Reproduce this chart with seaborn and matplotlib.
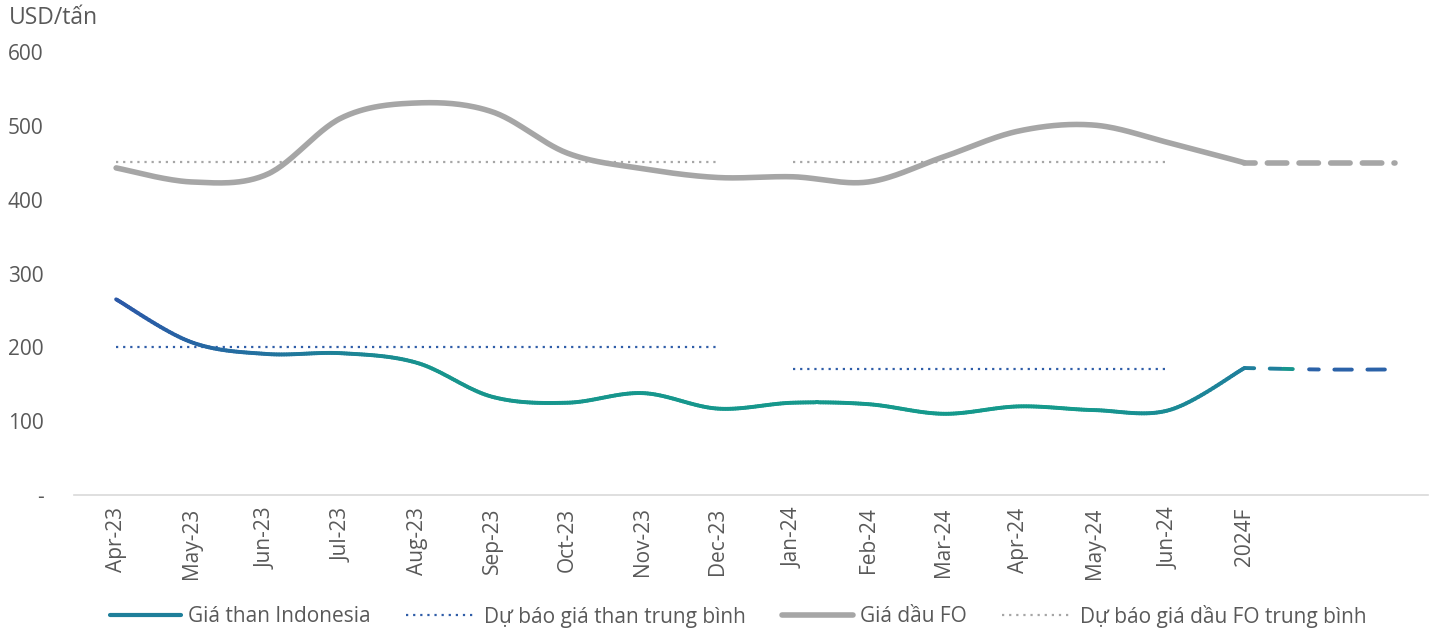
import numpy as np
import pandas as pd
import matplotlib
matplotlib.use("Agg")
import matplotlib.pyplot as plt
import seaborn as sns
from matplotlib.collections import LineCollection
from matplotlib.colors import LinearSegmentedColormap
from matplotlib.lines import Line2D

# ---------------- data ----------------
categories = ["Apr-23", "May-23", "Jun-23", "Jul-23", "Aug-23", "Sep-23", "Oct-23",
              "Nov-23", "Dec-23", "Jan-24", "Feb-24", "Mar-24", "Apr-24", "May-24",
              "Jun-24", "2024F", "", ""]
coal_price = [265, 207, 191, 192, 179, 133, 125, 138, 117, 125, 123, 110, 120, 115, 115, 172]
coal_forecast = [172, 170, 170]          # 2024F -> extension
oil_price = [443, 424, 434, 511, 531, 519, 463, 442, 430, 431, 424, 458, 493, 501, 477, 450]
oil_forecast = [450, 450, 450]
coal_avg_2023 = 200
coal_avg_2024 = 170
oil_avg_2023 = 451
oil_avg_2024 = 451
yticks = [0, 100, 200, 300, 400, 500, 600]
ytick_labels = ["-", "100", "200", "300", "400", "500", "600"]

TEXT = "#595959"
sns.set_theme(style="white")
plt.rcParams["font.family"] = ["Open Sans", "DejaVu Sans"]
FS = 15


def smooth(xs, ys, n=30):
    P = np.column_stack([xs, ys]).astype(float)
    E = np.vstack([P[0], P, P[-1]])
    out = []
    for i in range(len(P) - 1):
        p0, p1, p2, p3 = E[i], E[i + 1], E[i + 2], E[i + 3]
        c1 = p1 + (p2 - p0) / 6
        c2 = p2 - (p3 - p1) / 6
        t = np.linspace(0, 1, n, endpoint=(i == len(P) - 2))[:, None]
        b = ((1 - t) ** 3) * p1 + 3 * ((1 - t) ** 2) * t * c1 + 3 * (1 - t) * t ** 2 * c2 + t ** 3 * p2
        out.append(b)
    A = np.vstack(out)
    return A[:, 0], A[:, 1]


fig = plt.figure(figsize=(14.37, 6.31), dpi=100)
ax = fig.add_axes([74 / 1437, (631 - 495) / 631, (1428 - 74) / 1437, (495 - 52) / 631])

n_hist = len(coal_price)
x_hist = np.arange(n_hist)
x_fc = np.arange(n_hist - 1, n_hist - 1 + len(coal_forecast))

# average forecast dotted lines
avg_df = pd.DataFrame({
    "x": [0, 8, 9, 14, 0, 8, 9, 14],
    "y": [coal_avg_2023, coal_avg_2023, coal_avg_2024, coal_avg_2024,
          oil_avg_2023, oil_avg_2023, oil_avg_2024, oil_avg_2024],
    "seg": ["c1", "c1", "c2", "c2", "o1", "o1", "o2", "o2"],
})
for seg, col in [("c1", "#2F5DA8"), ("c2", "#2F5DA8"), ("o1", "#A6A6A6"), ("o2", "#A6A6A6")]:
    d = avg_df[avg_df.seg == seg]
    sns.lineplot(data=d, x="x", y="y", ax=ax, color=col, lw=1.6,
                 linestyle=(0, (1, 2.2)), legend=False)

# oil price (smooth)
ox, oy = smooth(x_hist, oil_price)
sns.lineplot(x=ox, y=oy, ax=ax, sort=False, color="#A6A6A6", lw=4.0,
             solid_capstyle="round", legend=False)
ofx, ofy = smooth(x_fc, oil_forecast)
sns.lineplot(x=ofx, y=ofy, ax=ax, sort=False, color="#A6A6A6", lw=4.0,
             linestyle=(1.5, (3.5, 2.2)), dash_capstyle="round", legend=False)

# coal price gradient line
cmap_main = LinearSegmentedColormap.from_list(
    "coal", [(0, "#2B58A7"), (0.12, "#2370A0"), (0.28, "#17958D"),
             (0.85, "#159A8C"), (1.0, "#1F7F9C")])
cx, cy = smooth(x_hist, coal_price)
pts = np.column_stack([cx, cy]).reshape(-1, 1, 2)
segs = np.concatenate([pts[:-1], pts[1:]], axis=1)
frac = (cx[:-1] - cx.min()) / (cx.max() - cx.min())
lc = LineCollection(segs, colors=cmap_main(frac), linewidths=2.8, capstyle="round")
ax.add_collection(lc)

# coal forecast: dashed, drawn in colour pieces
fx, fy = smooth(x_fc, coal_forecast, n=60)
pieces = [(15.0, 15.5, "#1F7F9C"), (15.5, 15.85, "#17958D"), (15.85, 17.0, "#2B62A8")]
for a, b, col in pieces:
    m = (fx >= a) & (fx <= b)
    sns.lineplot(x=fx[m], y=fy[m], ax=ax, sort=False, color=col, lw=2.8,
                 linestyle=(2, (4.5, 4.0)), dash_capstyle="round", legend=False)

# axes styling
ax.set_xlim(-0.56, len(categories) - 0.56)
ax.set_ylim(0, 600)
ax.set_xticks(range(len(categories)))
ax.set_xticklabels(categories, rotation=90, fontsize=FS, color=TEXT)
ax.set_yticks(yticks)
ax.set_yticklabels(ytick_labels, fontsize=FS, color=TEXT)
ax.tick_params(axis="both", length=0)
ax.tick_params(axis="y", pad=22)
ax.tick_params(axis="x", pad=9)
for lab in ax.get_yticklabels():
    lab.set_horizontalalignment("right")
for s in ["top", "right", "left"]:
    ax.spines[s].set_visible(False)
ax.spines["bottom"].set_color("#D9D9D9")
ax.spines["bottom"].set_linewidth(1.2)
ax.grid(False)
ax.set_xlabel("")
ax.set_ylabel("")

fig.text(9 / 1437, 1 - 18 / 631, "USD/tấn", fontsize=16.5, color=TEXT, va="center", ha="left")

handles = [
    Line2D([], [], color="#1E7F9A", lw=3.0),
    Line2D([], [], color="#2F5DA8", lw=1.6, linestyle=(0, (1, 2.2))),
    Line2D([], [], color="#A6A6A6", lw=4.0),
    Line2D([], [], color="#A6A6A6", lw=1.6, linestyle=(0, (1, 2.2))),
]
labels = ["Giá than Indonesia", "Dự báo giá than trung bình", "Giá dầu FO",
          "Dự báo giá dầu FO trung bình"]
leg = fig.legend(handles, labels, loc="center", bbox_to_anchor=(0.5 + 20 / 1437, 1 - 616 / 631),
                 ncol=4, frameon=False, fontsize=FS, handlelength=3.4,
                 handletextpad=0.35, columnspacing=1.7)
for t in leg.get_texts():
    t.set_color(TEXT)

fig.savefig("out.png", dpi=100)
